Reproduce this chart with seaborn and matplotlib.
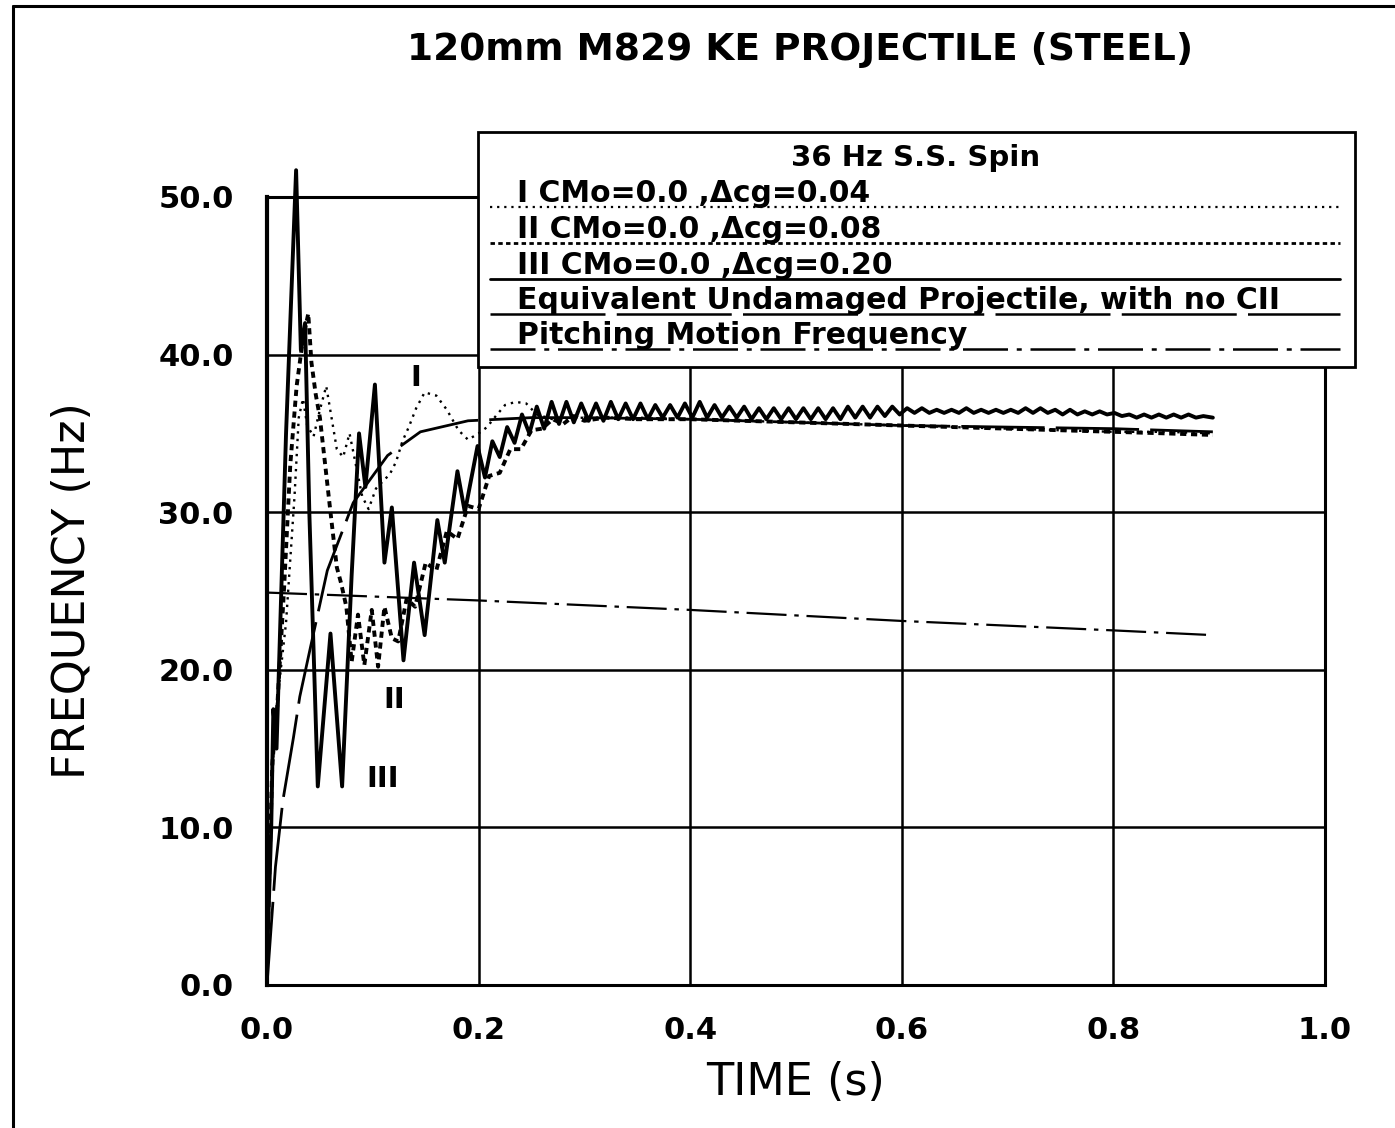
import numpy as np
import pandas as pd
import matplotlib
matplotlib.use("Agg")
import matplotlib.pyplot as plt
import seaborn as sns
from matplotlib.patches import Rectangle
from matplotlib.lines import Line2D

# ---------------- data ----------------
x_ticks = [0.0, 0.2, 0.4, 0.6, 0.8, 1.0]
x_tick_labels = ["0.0", "0.2", "0.4", "0.6", "0.8", "1.0"]
y_ticks = [0, 10, 20, 30, 40, 50]
y_tick_labels = ["0.0", "10.0", "20.0", "30.0", "40.0", "50.0"]

# Series III  (CMo=0.0, dcg=0.20) - thick solid
iii_t = [0.000, 0.004, 0.006, 0.009, 0.018, 0.0275, 0.032, 0.036, 0.040, 0.048,
         0.060, 0.071, 0.080, 0.087, 0.093, 0.102, 0.111, 0.118, 0.129, 0.139,
         0.149, 0.161, 0.168, 0.180, 0.187, 0.199,
         0.206, 0.213, 0.220, 0.227, 0.234, 0.241, 0.248, 0.255, 0.262, 0.269,
         0.276, 0.283, 0.290, 0.297, 0.304, 0.311, 0.318, 0.325, 0.332, 0.339,
         0.346, 0.353, 0.360, 0.367, 0.374, 0.381, 0.388, 0.395, 0.402, 0.409,
         0.416, 0.423, 0.430, 0.437, 0.444, 0.451, 0.458, 0.465, 0.472, 0.479,
         0.486, 0.493, 0.500, 0.507, 0.514, 0.521, 0.528, 0.535, 0.542, 0.549,
         0.556, 0.563, 0.570, 0.577, 0.584, 0.591, 0.598, 0.605, 0.612, 0.619,
         0.626, 0.633, 0.640, 0.647, 0.654, 0.661, 0.668, 0.675, 0.682, 0.689,
         0.696, 0.703, 0.710, 0.717, 0.724, 0.731, 0.738, 0.745, 0.752, 0.759,
         0.766, 0.773, 0.780, 0.787, 0.794, 0.801, 0.808, 0.815, 0.822, 0.829,
         0.836, 0.843, 0.850, 0.857, 0.864, 0.871, 0.878, 0.885, 0.894]
iii_f = [1.5, 10.0, 17.5, 15.0, 35.0, 51.7, 40.3, 42.0, 30.0, 12.6,
         22.3, 12.6, 26.0, 35.0, 31.6, 38.1, 26.8, 30.3, 20.6, 26.8,
         22.2, 29.5, 26.8, 32.6, 30.0, 34.2,
         32.2, 34.5, 33.5, 35.4, 34.4, 36.2, 35.0, 36.7, 35.3, 37.0,
         35.6, 37.0, 35.7, 36.9, 35.8, 36.9, 35.8, 37.0, 35.9, 36.9,
         35.9, 36.9, 35.9, 36.8, 36.0, 36.8, 36.0, 36.9, 36.0, 37.0,
         36.0, 36.8, 36.0, 36.7, 36.0, 36.7, 35.9, 36.6, 35.9, 36.6,
         35.9, 36.6, 35.9, 36.6, 35.9, 36.6, 35.9, 36.6, 35.9, 36.7,
         36.0, 36.7, 36.0, 36.7, 36.1, 36.7, 36.2, 36.6, 36.3, 36.6,
         36.3, 36.5, 36.3, 36.5, 36.3, 36.6, 36.3, 36.5, 36.3, 36.5,
         36.3, 36.5, 36.3, 36.6, 36.3, 36.6, 36.3, 36.5, 36.2, 36.5,
         36.2, 36.4, 36.2, 36.4, 36.2, 36.3, 36.1, 36.2, 36.0, 36.2,
         36.0, 36.2, 36.0, 36.2, 36.0, 36.2, 36.0, 36.1, 36.0]

# Series II  (CMo=0.0, dcg=0.08) - dashed
ii_t = [0.000, 0.005, 0.010, 0.016, 0.022, 0.028, 0.034, 0.039, 0.042, 0.046,
        0.050, 0.055, 0.060, 0.066, 0.070, 0.075, 0.080, 0.086, 0.092, 0.099,
        0.105, 0.111, 0.118, 0.124, 0.132, 0.140, 0.150, 0.160, 0.170, 0.180,
        0.190, 0.200, 0.210, 0.220, 0.230, 0.240, 0.250, 0.260, 0.270, 0.280,
        0.290, 0.300, 0.320, 0.350, 0.400, 0.450, 0.500, 0.550, 0.600, 0.650,
        0.700, 0.750, 0.800, 0.850, 0.894]
ii_f = [1.5, 14.0, 18.0, 25.0, 33.0, 38.0, 41.0, 42.6, 39.5, 37.5,
        36.0, 33.0, 30.0, 26.5, 25.5, 24.0, 20.5, 23.5, 20.3, 23.8,
        20.2, 24.0, 22.0, 21.8, 24.5, 24.0, 26.8, 26.3, 28.8, 28.3,
        30.4, 30.2, 32.3, 32.5, 34.0, 34.0, 35.2, 35.3, 35.9, 35.6,
        36.1, 35.8, 36.0, 35.9, 35.9, 35.8, 35.7, 35.6, 35.5, 35.4,
        35.3, 35.2, 35.1, 35.0, 34.9]

# Series I  (CMo=0.0, dcg=0.04) - dotted
i_t = [0.000, 0.004, 0.008, 0.013, 0.018, 0.022, 0.026, 0.030, 0.034, 0.038,
       0.044, 0.050, 0.056, 0.061, 0.066, 0.072, 0.078, 0.084, 0.090, 0.096,
       0.103, 0.110, 0.116, 0.122, 0.128, 0.134, 0.141, 0.149, 0.160, 0.170,
       0.181, 0.190, 0.200, 0.208, 0.215, 0.225, 0.235, 0.245, 0.255, 0.270,
       0.300, 0.350, 0.400, 0.450, 0.500, 0.550, 0.600, 0.650, 0.700, 0.750,
       0.800, 0.850, 0.894]
i_f = [1.5, 12.0, 17.0, 20.0, 23.0, 27.0, 31.0, 36.0, 37.2, 35.5,
       34.8, 36.5, 38.0, 36.0, 34.0, 33.5, 35.0, 33.0, 31.0, 30.2,
       31.5, 32.0, 32.4, 33.2, 34.5, 35.4, 36.6, 37.6, 37.4, 36.5,
       35.2, 34.6, 35.0, 35.4, 36.0, 36.8, 37.0, 36.9, 36.2, 35.9,
       36.0, 36.0, 35.9, 35.8, 35.7, 35.6, 35.5, 35.4, 35.3, 35.2,
       35.1, 35.1, 35.0]

# Equivalent undamaged projectile - long dash
und_t = [0.000, 0.008, 0.015, 0.025, 0.031, 0.041, 0.057, 0.0815, 0.114, 0.145,
         0.190, 0.250, 0.300, 0.400, 0.500, 0.600, 0.700, 0.800, 0.894]
und_f = [0.0, 7.5, 11.7, 15.7, 18.3, 21.4, 26.3, 30.6, 33.6, 35.1,
         35.8, 36.0, 36.0, 35.9, 35.7, 35.5, 35.4, 35.3, 35.1]

# Pitching motion frequency - dash dot
pit_t = [0.000, 0.200, 0.400, 0.600, 0.800, 0.894]
pit_f = [24.9, 24.4, 23.8, 23.1, 22.5, 22.2]

legend_title = "36 Hz S.S. Spin"
legend_rows = ["I CMo=0.0 ,\u0394cg=0.04",
               "II CMo=0.0 ,\u0394cg=0.08",
               "III CMo=0.0 ,\u0394cg=0.20",
               "Equivalent Undamaged Projectile, with no CII",
               "Pitching Motion Frequency"]

# ---------------- styling ----------------
sns.set_style("white")
plt.rcParams['font.family'] = ['DejaVu Sans']
plt.rcParams['text.color'] = 'black'
plt.rcParams['axes.labelcolor'] = 'black'
plt.rcParams['xtick.color'] = 'black'
plt.rcParams['ytick.color'] = 'black'

W, H = 1395, 1128
fig = plt.figure(figsize=(W / 100, H / 100), dpi=100)
fig.patch.set_facecolor("white")

def fx(px):
    return px / W

def fy(py):
    return 1 - py / H

ax = fig.add_axes([fx(267), fy(985), fx(1325) - fx(267), fy(197) - fy(985)])

DOT = (0, (1.0, 2.2))
DASH = (0, (1.6, 1.2))
LONG = (0, (30, 4))
LONG_LEG = (0, (46, 4.5))
DASHDOT = (0, (18, 3.5, 2, 3.5))

def draw(t, f, **kw):
    df = pd.DataFrame({"t": t, "f": f})
    sns.lineplot(data=df, x="t", y="f", ax=ax, color="black", estimator=None,
                 sort=False, legend=False, **kw)

draw(pit_t, pit_f, lw=1.6, linestyle=DASHDOT, zorder=3)
draw(und_t, und_f, lw=2.0, linestyle=LONG, zorder=4)
draw(i_t, i_f, lw=1.7, linestyle=DOT, zorder=5)
draw(ii_t, ii_f, lw=2.8, linestyle=DASH, zorder=6)
draw(iii_t, iii_f, lw=2.8, zorder=7, clip_on=False)

ax.set_xlim(0, 1.0)
ax.set_ylim(0, 50)
ax.set_xticks(x_ticks)
ax.set_xticklabels(x_tick_labels)
ax.set_yticks(y_ticks)
ax.set_yticklabels(y_tick_labels)
ax.tick_params(axis="both", length=0, labelsize=22, colors="black")
ax.tick_params(axis="y", pad=24)
ax.tick_params(axis="x", pad=22)
for lab in ax.get_xticklabels() + ax.get_yticklabels():
    lab.set_fontweight("bold")
ax.set_xlabel("TIME (s)", fontsize=32, labelpad=12, color="black")
ax.set_ylabel("FREQUENCY (Hz)", fontsize=32, labelpad=46, color="black")
ax.grid(True, color="black", lw=1.8)
ax.set_axisbelow(True)
for name, sp in ax.spines.items():
    sp.set_color("black")
    sp.set_linewidth(2.2)
ax.spines["left"].set_linewidth(3.0)

# in-plot curve labels
ax.text(0.141, 38.5, "I", fontsize=21, fontweight="bold", ha="center", va="center")
ax.text(0.120, 18.1, "II", fontsize=21, fontweight="bold", ha="center", va="center")
ax.text(0.109, 13.1, "III", fontsize=21, fontweight="bold", ha="center", va="center")

# title
fig.text(fx(800), fy(50), "120mm M829 KE PROJECTILE (STEEL)", fontsize=27,
         fontweight="bold", ha="center", va="center", color="black")

# legend box
fig.add_artist(Rectangle((fx(478), fy(367)), fx(1355) - fx(478), fy(132) - fy(367),
                         transform=fig.transFigure, facecolor="white",
                         edgecolor="black", lw=2.0, zorder=10))
fig.text(fx(916), fy(158), legend_title, fontsize=21, fontweight="bold",
         ha="center", va="center", zorder=12, color="black")
row_lines = [207, 243, 279, 314, 349]
row_styles = [(DOT, 1.6), (DASH, 2.0), ("-", 2.0), (LONG_LEG, 1.8), (DASHDOT, 1.8)]
for yl, txt, (ls, lw) in zip(row_lines, legend_rows, row_styles):
    fig.add_artist(Line2D([fx(490), fx(1340)], [fy(yl), fy(yl)], color="black",
                          lw=lw, linestyle=ls, transform=fig.transFigure, zorder=11))
    fig.text(fx(517), fy(yl - 5), txt, fontsize=21.5, fontweight="bold",
             ha="left", va="baseline", zorder=12, color="black")

# outer frame (left and top edges only)
fig.add_artist(Line2D([fx(13), fx(13)], [0.0, fy(6)], color="black", lw=2.2,
                      transform=fig.transFigure, zorder=20))
fig.add_artist(Line2D([fx(13), 1.0], [fy(6), fy(6)], color="black", lw=2.2,
                      transform=fig.transFigure, zorder=20))

fig.savefig("out.png", dpi=100, facecolor="white")
